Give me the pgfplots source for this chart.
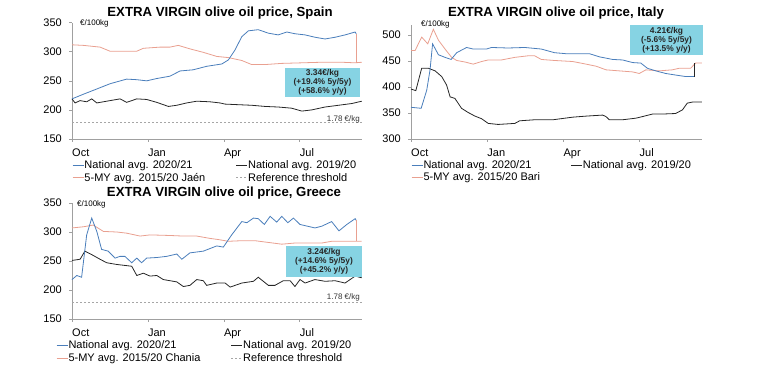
\documentclass[border=0pt]{standalone}
\usepackage{pgfplots}
\pgfplotsset{compat=1.18}
\usepackage{fontspec}
\setmainfont{Liberation Sans}
\definecolor{sblue}{HTML}{4A7EBB}
\definecolor{ssalmon}{HTML}{E9A090}
\definecolor{sblack}{HTML}{262626}
\definecolor{sgray}{HTML}{A6A6A6}
\definecolor{axgray}{HTML}{A0A0A0}
\definecolor{boxcyan}{HTML}{86D3E3}
\newcommand{\fsz}[1]{\fontsize{#1}{#1}\selectfont}
\pgfplotsset{
 oil/.style={
  scale only axis, width=290bp, height=116.3bp,
  xmin=0, xmax=11.46,
  axis x line*=bottom, axis y line*=left,
  axis line style={axgray, line width=0.6bp, -},
  every tick/.style={axgray, line width=0.6bp},
  tick align=outside, major tick length=3bp,
  xtick={0,3,6,9}, xticklabels={Oct,Jan,Apr,Jul},
  /pgf/number format/assume math mode=true,
  tick label style={font=\fsz{11bp}, text=black},
  xticklabel style={anchor=north west, inner sep=0pt, yshift=-6.5bp},
  yticklabel style={anchor=east, inner sep=0pt, xshift=-7bp},
  clip=false,
  legend columns=2,
  legend cell align=left,
  legend image code/.code={\draw[##1] (0bp,0bp) -- (11bp,0bp);},
  legend style={draw=none, fill=none, font=\fsz{11bp}, inner sep=0pt, row sep=2.5bp,
     nodes={inner xsep=0.5bp, inner ysep=0.3bp},
     /tikz/every even column/.append style={column sep=30bp}},
 },
 bl/.style={sblue, line width=0.8bp},
 rd/.style={ssalmon, line width=0.8bp},
 bk/.style={sblack, line width=0.8bp},
 th/.style={sgray, line width=0.6bp, dash pattern=on 2bp off 2bp},
}
\begin{document}
\begin{tikzpicture}
\useasboundingbox (0,0) rectangle (768bp,366bp);

% ---------------- Spain ----------------
\begin{axis}[oil, at={(72bp,227bp)}, anchor=south west,
  ymin=150, ymax=350, ytick={150,200,250,300,350},
  legend style={at={(axis description cs:0,-0.18)}, anchor=north west}]
\addlegendimage{bl}\addlegendentry{National avg. 2020/21}
\addlegendimage{bk}\addlegendentry{National avg. 2019/20}
\addlegendimage{rd}\addlegendentry{5-MY avg. 2015/20 Jaén}
\addlegendimage{th}\addlegendentry{Reference threshold}
\addplot[th, forget plot] coordinates {(0,178) (11.46,178)};
\addplot[rd, forget plot] coordinates {(0,312) (0.45,311) (1.11,308) (1.50,301) (2.03,301) (2.56,301) (2.82,306) (3.48,308) (3.87,308) (4.20,311) (4.66,305) (5.19,299) (5.72,292) (6.18,290) (6.71,285) (7.10,278) (7.63,278) (8.28,280) (9.08,281) (9.87,282) (10.66,282) (11.19,281) (11.45,282)};
\addplot[bk, forget plot] coordinates {(0,219) (0.12,212) (0.32,216) (0.58,214) (0.78,219) (0.98,212) (1.37,215) (1.90,219) (2.16,213) (2.56,219) (2.95,218) (3.35,213) (3.81,206) (4.14,208) (4.53,212) (4.93,215) (5.45,214) (5.85,212) (6.05,210) (6.57,209) (7.10,208) (7.63,206) (8.15,205) (8.68,203) (9.08,198) (9.47,200) (10.0,205) (10.53,208) (11.06,211) (11.45,215)};
\addplot[bl, forget plot] coordinates {(0,219) (0.45,227) (0.98,236) (1.50,245) (2.16,253) (2.56,252) (2.95,250) (3.35,254) (3.87,258) (4.27,267) (4.79,269) (5.32,275) (5.92,279) (6.18,286) (6.44,303) (6.71,326) (6.97,336) (7.36,338) (7.76,332) (8.15,329) (8.49,334) (8.81,331) (9.21,329) (9.60,325) (10.00,322) (10.40,325) (10.79,329) (11.19,334) (11.23,331)};
\addplot[ssalmon, line width=0.5bp, forget plot] coordinates {(11.23,331) (11.23,281)};
\end{axis}

% ---------------- Italy ----------------
\begin{axis}[oil, at={(411bp,227bp)}, anchor=south west, width=291bp, height=114.4bp,
  ymin=300, ymax=520, ytick={300,350,400,450,500},
  legend style={at={(axis description cs:0,-0.183)}, anchor=north west}]
\addlegendimage{bl}\addlegendentry{National avg. 2020/21}
\addlegendimage{bk}\addlegendentry{National avg. 2019/20}
\addlegendimage{rd}\addlegendentry{5-MY avg. 2015/20 Bari}
\addplot[rd, forget plot] coordinates {(0,470) (0.16,470) (0.42,496) (0.66,483) (0.88,511) (1.08,490) (1.34,473) (1.60,457) (1.80,451) (2.13,448) (2.45,444) (2.78,449) (3.04,452) (3.56,452) (4.09,457) (4.61,460) (4.87,460) (5.13,453) (5.65,451) (6.37,449) (6.89,444) (7.29,440) (7.68,433) (8.20,431) (8.73,429) (8.99,426) (9.25,433) (9.77,431) (10.29,433) (10.56,436) (11.01,436) (11.21,446) (11.45,446)};
\addplot[bk, forget plot] coordinates {(0,396) (0.19,393) (0.42,436) (0.69,436) (0.95,431) (1.21,420) (1.40,404) (1.54,381) (1.73,378) (1.99,359) (2.25,351) (2.52,344) (2.78,339) (3.04,330) (3.43,328) (4.09,330) (4.28,335) (4.87,337) (5.59,337) (6.37,342) (6.89,344) (7.55,346) (7.68,343) (7.81,337) (8.33,337) (8.85,340) (9.11,343) (9.51,348) (9.90,348) (10.42,349) (10.69,356) (10.88,369) (11.08,371) (11.45,371)};
\addplot[bl, forget plot] coordinates {(0,361) (0.40,359) (0.62,394) (0.75,433) (0.85,483) (1.08,462) (1.34,457) (1.58,453) (1.80,466) (2.19,476) (2.45,473) (2.97,473) (3.17,476) (3.82,475) (4.48,476) (5.13,473) (5.65,466) (6.11,464) (6.64,464) (7.03,464) (7.42,458) (7.94,453) (8.33,452) (8.73,447) (9.05,446) (9.31,436) (9.64,431) (10.03,426) (10.42,423) (10.83,420) (11.15,420)};
\addplot[sblack, line width=0.8bp, forget plot] coordinates {(11.15,420) (11.15,446)};
\end{axis}

% ---------------- Greece ----------------
\begin{axis}[oil, at={(72bp,47bp)}, anchor=south west, height=116bp,
  ymin=150, ymax=350, ytick={150,200,250,300,350},
  legend style={at={(axis description cs:-0.055,-0.185)}, anchor=north west}]
\addlegendimage{bl}\addlegendentry{National avg. 2020/21}
\addlegendimage{bk}\addlegendentry{National avg. 2019/20}
\addlegendimage{rd}\addlegendentry{5-MY avg. 2015/20 Chania}
\addlegendimage{th}\addlegendentry{Reference threshold}
\addplot[th, forget plot] coordinates {(0,178) (11.46,178)};
\addplot[rd, forget plot] coordinates {(0,307) (0.45,309) (0.84,312) (1.24,301) (1.77,300) (2.16,298) (2.69,293) (3.08,295) (3.87,294) (4.40,293) (4.93,293) (5.45,289) (5.78,287) (6.18,284) (6.71,285) (7.23,285) (7.76,282) (8.29,279) (8.81,281) (9.34,281) (9.87,281) (10.26,284) (10.92,284) (11.45,284)};
\addplot[bk, forget plot] coordinates {(0,251) (0.32,253) (0.51,267) (0.78,261) (1.11,253) (1.37,247) (1.77,244) (2.16,242) (2.36,241) (2.56,225) (2.82,229) (3.08,224) (3.35,225) (3.61,218) (4.14,214) (4.40,206) (4.66,208) (4.93,218) (5.19,216) (5.32,208) (5.72,212) (6.05,212) (6.25,205) (6.71,212) (7.17,215) (7.36,222) (7.76,208) (8.02,208) (8.35,216) (8.62,216) (8.81,206) (9.01,218) (9.21,212) (9.60,218) (10.0,215) (10.40,216) (10.79,212) (11.19,224) (11.45,221)};
\addplot[bl, forget plot] coordinates {(0,218) (0.19,225) (0.38,222) (0.58,295) (0.78,324) (0.98,301) (1.17,270) (1.43,267) (1.70,255) (1.90,258) (2.09,258) (2.36,247) (2.56,255) (2.75,247) (2.95,255) (3.35,256) (3.74,258) (4.14,262) (4.34,253) (4.66,264) (5.19,267) (5.72,276) (5.98,274) (6.31,295) (6.71,318) (6.91,316) (7.17,324) (7.36,323) (7.60,313) (7.83,327) (8.09,317) (8.29,327) (8.53,316) (8.75,324) (9.01,313) (9.60,307) (9.87,310) (10.26,318) (10.55,302) (10.86,313) (11.19,323) (11.23,320)};
\addplot[ssalmon, line width=0.5bp, forget plot] coordinates {(11.23,320) (11.23,284)};
\end{axis}

% ---------------- titles and notes ----------------
\node[anchor=base, font=\fsz{13.2bp}\bfseries] at (220bp,349bp) {EXTRA VIRGIN olive oil price, Spain};
\node[anchor=base, font=\fsz{13.2bp}\bfseries] at (556bp,349bp) {EXTRA VIRGIN olive oil price, Italy};
\node[anchor=base, font=\fsz{13.2bp}\bfseries] at (224bp,169bp) {EXTRA VIRGIN olive oil price, Greece};

\node[anchor=base west, inner sep=0pt, font=\fsz{8bp}] at (80bp,340bp) {€/100kg};
\node[anchor=base west, inner sep=0pt, font=\fsz{8bp}] at (421bp,339bp) {€/100kg};
\node[anchor=base west, inner sep=0pt, font=\fsz{8bp}] at (77bp,159bp) {€/100kg};

\node[anchor=base east, inner sep=0pt, font=\fsz{8bp}, text=black!80] at (360bp,244.5bp) {1.78 €/kg};
\node[anchor=base east, inner sep=0pt, font=\fsz{8bp}, text=black!80] at (360bp,66bp) {1.78 €/kg};

\fill[boxcyan] (285bp,269bp) rectangle (360bp,298bp);
\node[align=center, font=\fontsize{8.4bp}{9.2bp}\selectfont\bfseries, text=black!85, inner sep=0pt] at (322.5bp,283.5bp) {3.34€/kg\\(+19.4\% 5y/5y)\\(+58.6\% y/y)};
\fill[boxcyan] (630bp,311bp) rectangle (703bp,341bp);
\node[align=center, font=\fontsize{8.4bp}{9.2bp}\selectfont\bfseries, text=black!85, inner sep=0pt] at (666.5bp,325.5bp) {4.21€/kg\\(-5.6\% 5y/5y)\\(+13.5\% y/y)};
\fill[boxcyan] (286bp,89bp) rectangle (362bp,120bp);
\node[align=center, font=\fontsize{8.4bp}{9.2bp}\selectfont\bfseries, text=black!85, inner sep=0pt] at (324bp,104.5bp) {3.24€/kg\\(+14.6\% 5y/5y)\\(+45.2\% y/y)};
\end{tikzpicture}
\end{document}
